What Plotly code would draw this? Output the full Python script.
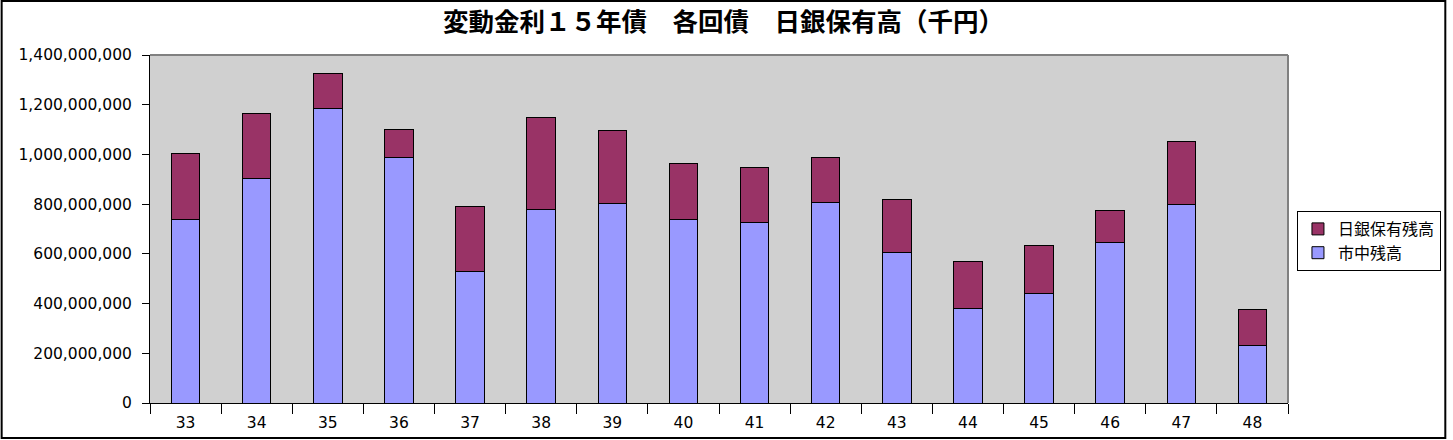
import plotly.graph_objs as go

# 回号
series_no = ["33", "34", "35", "36", "37", "38", "39", "40",
             "41", "42", "43", "44", "45", "46", "47", "48"]

# 市中残高 (千円)
market = [738e6, 904e6, 1186e6, 989e6, 530e6, 780e6, 804e6, 740e6,
          727e6, 808e6, 607e6, 382e6, 442e6, 647e6, 800e6, 233e6]

# 日銀保有残高 (千円)
boj = [265e6, 261e6, 140e6, 112e6, 262e6, 369e6, 293e6, 225e6,
       222e6, 181e6, 213e6, 189e6, 193e6, 129e6, 254e6, 145e6]

W, H = 1453, 440
L, R, T, B = 150, 160, 55, 37
pw = W - L - R
ph = H - T - B

font = "Noto Sans CJK JP"
num_font = "DejaVu Sans, Noto Sans CJK JP"

fig = go.Figure()

fig.add_trace(go.Bar(
    x=series_no, y=market, name="市中残高",
    marker=dict(color="#9999FF", line=dict(color="black", width=1)),
))
fig.add_trace(go.Bar(
    x=series_no, y=boj, name="日銀保有残高",
    marker=dict(color="#993366", line=dict(color="black", width=1)),
))

fig.update_layout(
    width=W, height=H,
    margin=dict(l=L, r=R, t=T, b=B),
    barmode="stack",
    bargap=0.6,
    plot_bgcolor="#D0D0D0",
    paper_bgcolor="white",
    font=dict(family=num_font, size=15.5, color="black"),
    title=dict(
        text="<b>変動金利１５年債　各回債　日銀保有高（千円）</b>",
        x=(726 - L) / pw, xref="paper", xanchor="center",
        y=1 - 22 / H, yanchor="middle",
        font=dict(family=font, size=25.5, color="black"),
    ),
    legend=dict(
        x=(1302 - L) / pw, xanchor="left",
        y=(H - B - 211) / ph, yanchor="top",
        traceorder="reversed",
        bgcolor="white", bordercolor="black", borderwidth=1,
        font=dict(family=font, size=16),
        itemwidth=30, tracegroupgap=0,
    ),
    showlegend=True,
)

fig.update_yaxes(
    range=[0, 1.4e9], dtick=2e8, tickformat=",d",
    showgrid=False, zeroline=False, automargin=False,
    showline=True, linecolor="black", linewidth=1,
    ticks="outside", ticklen=7, tickcolor="black",
    ticklabelstandoff=7,
    tickfont=dict(family=num_font, size=15.5),
)
fig.update_xaxes(
    type="category", tickson="boundaries", automargin=False,
    showgrid=False, showline=True, linecolor="black", linewidth=1,
    ticks="outside", ticklen=10, tickcolor="black",
    ticklabelstandoff=5,
    tickfont=dict(family=num_font, size=15.5),
)

# 枠線（上・右は灰色）
fig.add_shape(type="line", xref="paper", yref="paper",
              x0=0, x1=1, y0=1, y1=1, line=dict(color="#808080", width=2))
fig.add_shape(type="line", xref="paper", yref="paper",
              x0=1, x1=1, y0=0, y1=1, line=dict(color="#808080", width=2))
# 外枠
fig.add_shape(type="rect", xref="paper", yref="paper",
              x0=-(L - 1) / pw, x1=1 + (R - 2) / pw,
              y0=-(B - 2) / ph, y1=1 + (T - 1) / ph,
              line=dict(color="black", width=2))

fig.write_html(
    "out.html",
    config={"displayModeBar": False},
    post_script="document.body.style.margin='0';"
                "document.body.style.overflow='hidden';"
                "document.documentElement.style.overflow='hidden';",
)
